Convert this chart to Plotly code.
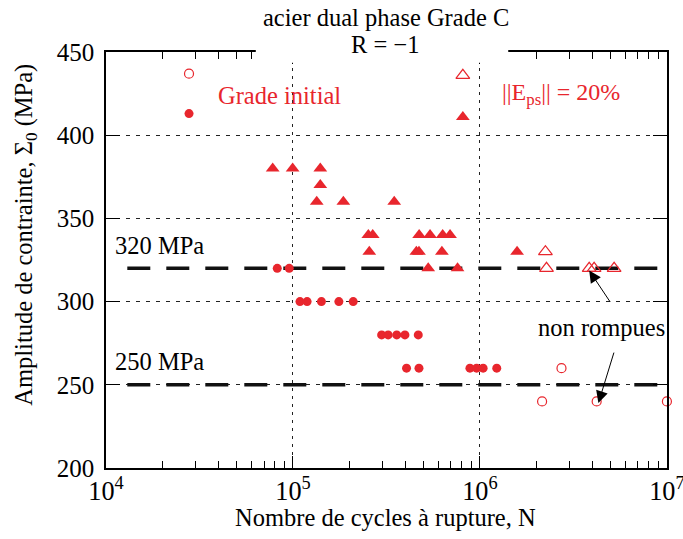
import math
import plotly.graph_objects as go

# Data (N cycles, stress amplitude MPa)
# Grade initial - broken (filled circles)
gi_rompu_x = [8.24e4, 9.55e4, 1.09e5, 1.19e5, 1.42e5, 1.76e5, 2.10e5,
              2.98e5, 3.23e5, 3.59e5, 3.97e5, 4.68e5,
              4.05e5, 4.72e5, 8.84e5, 9.60e5, 1.04e6, 1.23e6]
gi_rompu_y = [320, 320, 300, 300, 300, 300, 300,
              280, 280, 280, 280, 280,
              260, 260, 260, 260, 260, 260]

# Grade initial - not broken (open circles)
gi_nr_x = [2.73e6, 2.15e6, 4.21e6, 1.0e7]
gi_nr_y = [260, 240, 240, 240]

# ||Eps|| = 20% - broken (filled triangles)
pre_rompu_x = [7.79e4, 9.96e4, 1.40e5, 1.40e5,
               1.34e5, 1.86e5, 3.48e5,
               2.53e5, 2.67e5, 4.73e5, 5.41e5, 6.32e5, 6.92e5,
               2.56e5, 4.57e5, 4.72e5, 6.26e5, 1.58e6,
               5.29e5, 7.59e5]
pre_rompu_y = [380, 380, 380, 370,
               360, 360, 360,
               340, 340, 340, 340, 340, 340,
               330, 330, 330, 330, 330,
               320, 320]

# ||Eps|| = 20% - not broken (open triangles)
pre_nr_x = [2.24e6, 2.27e6, 3.84e6, 4.08e6, 5.22e6]
pre_nr_y = [330, 320, 320, 320, 320]

# legend symbols drawn inside the plot
leg_circ_x = [2.78e4, 2.78e4]
leg_circ_y = [437, 413]
leg_tri_x = [8.1e5, 8.1e5]
leg_tri_y = [436, 411]

# fatigue limits
ref_x = [1.3e4, 9.5e6]
limite_320 = [320, 320]
limite_250 = [250, 250]

y_ticks = [200, 250, 300, 350, 400, 450]

RED = "#E8262D"
FONT = "Liberation Serif"
FS = 24.5

fig = go.Figure()

# reference lines first so markers sit on top
for yv in (limite_320, limite_250):
    fig.add_trace(go.Scatter(x=ref_x, y=yv, mode="lines",
                             line=dict(color="#111111", width=3.5, dash="23px,16px")))

fig.add_trace(go.Scatter(x=gi_rompu_x, y=gi_rompu_y, mode="markers",
                         marker=dict(symbol="circle", size=9, color=RED)))
fig.add_trace(go.Scatter(x=gi_nr_x, y=gi_nr_y, mode="markers", cliponaxis=False,
                         marker=dict(symbol="circle-open", size=9, color=RED, line=dict(width=1.2))))
fig.add_trace(go.Scatter(x=pre_rompu_x, y=pre_rompu_y, mode="markers",
                         marker=dict(symbol="triangle-up", size=12, color=RED)))
fig.add_trace(go.Scatter(x=pre_nr_x, y=pre_nr_y, mode="markers",
                         marker=dict(symbol="triangle-up-open", size=12, color=RED, line=dict(width=1.2))))

# legend markers
fig.add_trace(go.Scatter(x=leg_circ_x, y=leg_circ_y, mode="markers",
                         marker=dict(symbol=["circle-open", "circle"], size=9, color=RED,
                                     line=dict(width=[1.2, 0], color=RED))))
fig.add_trace(go.Scatter(x=leg_tri_x, y=leg_tri_y, mode="markers",
                         marker=dict(symbol=["triangle-up-open", "triangle-up"], size=12, color=RED,
                                     line=dict(width=[1.2, 0], color=RED))))

# white boxes hiding grid behind the labels
shapes = [
    dict(type="rect", xref="paper", yref="paper", x0=0.078, x1=0.244, y0=0.80, y1=1.0,
         fillcolor="white", line_width=0, layer="between"),
    dict(type="rect", xref="paper", yref="paper", x0=0.551, x1=0.738, y0=0.795, y1=1.0,
         fillcolor="white", line_width=0, layer="between"),
    dict(type="rect", xref="paper", yref="paper", x0=0.267, x1=0.717, y0=0.974, y1=1.04,
         fillcolor="white", line_width=0, layer="above"),
]

annotations = []
def label(text, x, y, color="black", xanchor="center", xref="paper", yref="paper", size=FS, angle=0):
    annotations.append(dict(text=text, x=x, y=y, xref=xref, yref=yref, xanchor=xanchor,
                            yanchor="middle", showarrow=False, textangle=angle,
                            font=dict(family=FONT, size=size, color=color)))

label("acier dual phase Grade C", 0.499, 1.084)
label("R = \u22121", 0.497, 1.017)
label("Grade initial", 0.196, 424, color=RED, xanchor="left", yref="y")
label("||E<sub>ps</sub>|| = 20%", 0.702, 425, color=RED, xanchor="left", yref="y", size=24)
label("320 MPa", 0.012, 334, xanchor="left", yref="y")
label("250 MPa", 0.012, 264, xanchor="left", yref="y")
label("non rompues", 0.884, 0.337)
# axis titles
label("Nombre de cycles à rupture, N", 0.499, -0.118)
label("Amplitude de contrainte, \u03a3<sub>0</sub> (MPa)", -0.145, 0.56, angle=-90)

# arrows towards the unbroken specimens (log axis -> log10 position)
for hx, hy, ax, ay in [(3.84e6, 318.7, 22, 33), (4.3e6, 239, 16, -52)]:
    annotations.append(dict(x=math.log10(hx), y=hy, xref="x", yref="y", ax=ax, ay=ay, text="",
                            showarrow=True, arrowhead=2, arrowsize=2.4, arrowwidth=1,
                            arrowcolor="black", standoff=0))

fig.update_layout(
    width=683, height=539, showlegend=False,
    plot_bgcolor="white", paper_bgcolor="white",
    margin=dict(l=106, r=16, t=52, b=71),
    font=dict(family=FONT, size=FS, color="black"),
    shapes=shapes, annotations=annotations,
)

fig.update_xaxes(type="log", range=[4, 7.0005], dtick=1, exponentformat="power", showexponent="all",
                 automargin=False, ticklabeloverflow="allow",
                 showline=True, linewidth=1.5, linecolor="black", mirror="allticks",
                 ticks="inside", ticklen=12, tickcolor="black",
                 showgrid=True, gridcolor="#222222", gridwidth=1, griddash="3px,5px",
                 minor=dict(dtick="D1", ticks="inside", ticklen=7, tickcolor="black", showgrid=False),
                 tickfont=dict(family=FONT, size=21))
fig.update_yaxes(range=[200, 450], tickvals=y_ticks, automargin=False,
                 showline=True, linewidth=1.5, linecolor="black", mirror="allticks",
                 ticks="inside", ticklen=14, tickcolor="black",
                 showgrid=True, gridcolor="#222222", gridwidth=1, griddash="4px,6px",
                 zeroline=False, ticklabelstandoff=5,
                 tickfont=dict(family=FONT, size=25))

# drop the default page margin so the figure fills the window exactly
fig.write_html("out.html", config={"displayModeBar": False},
               post_script="document.body.style.margin='0';document.body.style.overflow='hidden';")
